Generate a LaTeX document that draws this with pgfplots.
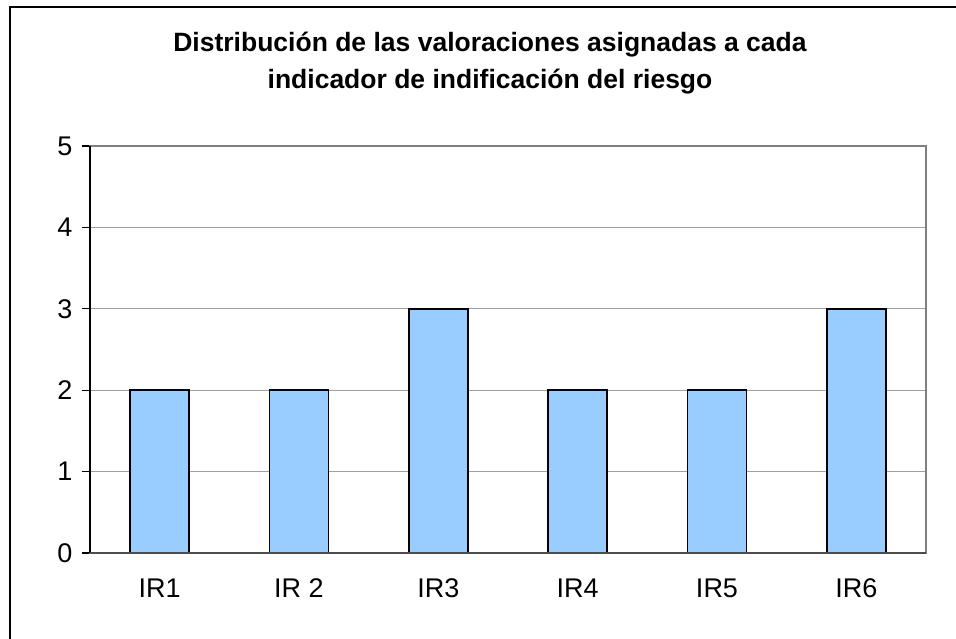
\documentclass[border=0pt]{standalone}
\usepackage{pgfplots}
\pgfplotsset{compat=1.18}
\usepackage{fontspec}
\setmainfont{Liberation Sans}
\definecolor{barblue}{HTML}{99CCFF}
\definecolor{gridgray}{HTML}{A0A0A0}
\definecolor{framegray}{HTML}{808080}
\begin{document}
\begin{tikzpicture}[x=1pt,y=1pt]
\useasboundingbox (0,0) rectangle (956,639);
\draw[line width=1.5pt,black] (10,-5) -- (10,632) -- (960,632);
\node[align=center,font=\fontsize{26.5}{37}\selectfont\bfseries] at (490,576) {Distribución de las valoraciones asignadas a cada\\indicador de indificación del riesgo};
\begin{axis}[
  at={(90pt,86pt)}, anchor=south west,
  scale only axis,
  width=836pt, height=407pt,
  xmin=0, xmax=6,
  ymin=0, ymax=5,
  ytick={0,1,2,3,4,5},
  ytick pos=left,
  xtick={0.5,1.5,2.5,3.5,4.5,5.5},
  xticklabels={IR1,IR 2,IR3,IR4,IR5,IR6},
  major x tick style={draw=none},
  ytick style={black,line width=1.2pt},
  tick align=outside,
  major tick length=8pt,
  ymajorgrids,
  grid style={gridgray,line width=1pt},
  axis line style={framegray,line width=1.5pt},
  tick label style={font=\fontsize{27}{31}\selectfont},
  /pgf/number format/assume math mode=true,
  xticklabel style={yshift=-14pt},
  yticklabel style={xshift=-6pt},
  clip=false,
]
\addplot[ybar, bar width=59pt, fill=barblue, draw=black, line width=1.6pt, bar shift=0pt]
  coordinates {(0.5,2) (1.5,2) (2.5,3) (3.5,2) (4.5,2) (5.5,3)};
\draw[black,line width=1.5pt] (rel axis cs:0,0) -- (rel axis cs:0,1);
\draw[black!70,line width=1.5pt] (rel axis cs:0,0) -- (rel axis cs:1,0);
\end{axis}
\end{tikzpicture}
\end{document}
